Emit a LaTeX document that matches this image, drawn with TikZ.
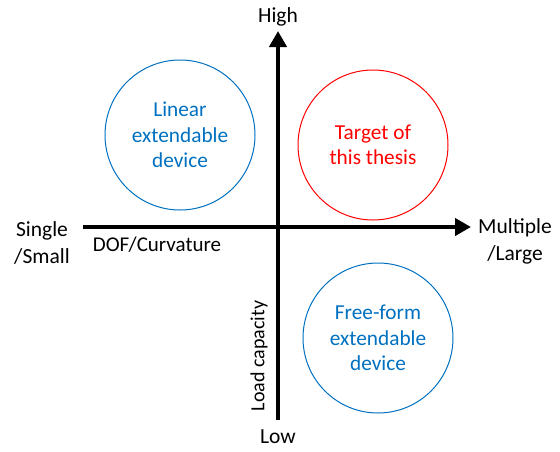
\documentclass[tikz,border=0pt]{standalone}
\usepackage{fontspec}
\setmainfont{Carlito}
\usetikzlibrary{arrows.meta}
\definecolor{offblue}{RGB}{0,112,192}
\definecolor{offred}{RGB}{255,0,0}
\begin{document}
\begin{tikzpicture}[x=1pt,y=-1pt,
  lbl/.style={font=\fontsize{21.5}{27}\selectfont, align=center, inner sep=0pt},
  circ/.style={circle, draw=#1, text=#1, line width=1pt, minimum size=150pt, align=center, inner sep=0pt, font=\fontsize{21.3}{25.5}\selectfont},
  axis/.style={line width=4pt, -{Triangle[length=16pt,width=17pt]}}]
\useasboundingbox (0,0) rectangle (560,451);
\coordinate (xs) at (83,227);
\coordinate (xe) at (471,227);
\coordinate (ys) at (278,420);
\coordinate (ye) at (278,31);
\draw[axis] (xs) -- (xe);
\draw[axis] (ys) -- (ye);
\node[lbl] (high) at (278,17) {High};
\node[lbl] (low) at (278,437) {Low};
\node[lbl] (single) at (42,243) {Single\\/Small};
\node[lbl] (multiple) at (515,241) {Multiple\\/Large};
\node[lbl, font=\fontsize{21}{24}\selectfont] (dof) at (157,245) {DOF/Curvature};
\node[lbl, font=\fontsize{20}{24}\selectfont, rotate=90] (load) at (259,356) {Load capacity};
\node[circ=offblue] (lin) at (180,135) {Linear\\extendable\\device};
\node[circ=offred] (tgt) at (373,145) {Target of\\this thesis};
\node[circ=offblue] (free) at (378,338) {Free-form\\extendable\\device};
\end{tikzpicture}
\end{document}
